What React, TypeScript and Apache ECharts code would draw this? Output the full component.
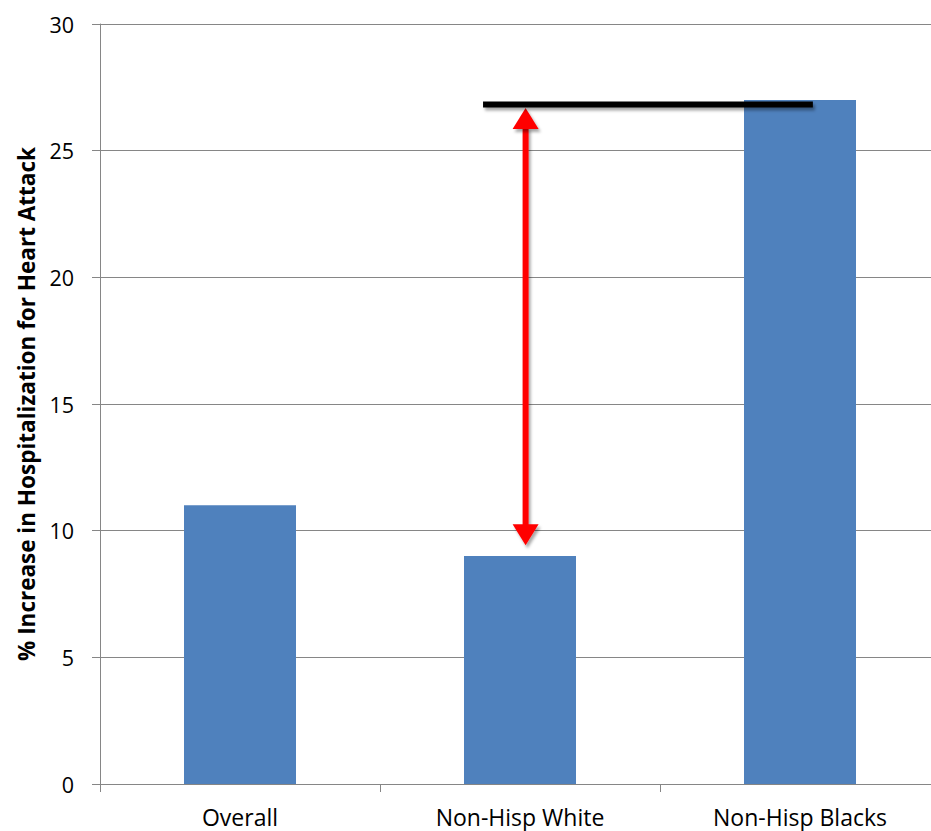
import React, { useEffect, useRef } from "react";
import * as echarts from "echarts";

const categories = ["Overall", "Non-Hisp White", "Non-Hisp Blacks"];
const values = [11, 9, 27];
const yMin = 0;
const yMax = 30;
const yInterval = 5;
const yAxisTitle = "% Increase in Hospitalization for Heart Attack";
// annotation: reference line at Non-Hisp Blacks level, arrow down to Non-Hisp White
const refLevel = [26.82];
const arrowTop = [26.68];
const arrowBottom = [9.42];

export default function App() {
  const ref = useRef<HTMLDivElement>(null);
  useEffect(() => {
    if (!ref.current) return;
    const chart = echarts.init(ref.current, null, { renderer: "svg" });
    const font = "'Open Sans', sans-serif";
    chart.setOption({
      animation: false,
      backgroundColor: "#ffffff",
      grid: { left: 100, top: 24, right: 20, bottom: 47, containLabel: false },
      xAxis: {
        type: "category",
        data: categories,
        axisLine: { show: true, lineStyle: { color: "#868686", width: 1 } },
        axisTick: { show: true, length: 8, alignWithLabel: false, lineStyle: { color: "#868686" } },
        axisLabel: { color: "#000", fontSize: 23, fontFamily: font, margin: 21 },
        splitLine: { show: false },
      },
      yAxis: {
        type: "value",
        min: yMin,
        max: yMax,
        interval: yInterval,
        name: yAxisTitle,
        nameLocation: "middle",
        nameGap: 62,
        nameTextStyle: { color: "#000", fontSize: 22.5, fontWeight: "bold", fontFamily: font },
        axisLine: { show: true, lineStyle: { color: "#868686", width: 1 } },
        axisTick: { show: true, length: 8, lineStyle: { color: "#868686" } },
        axisLabel: { color: "#000", fontSize: 21.5, fontFamily: font, margin: 26 },
        splitLine: { show: true, lineStyle: { color: "#868686", width: 1 } },
      },
      series: [
        {
          type: "bar",
          data: values,
          barWidth: "40%",
          itemStyle: { color: "#4F81BD" },
          z: 2,
        },
        {
          type: "custom",
          z: 5,
          clip: false,
          data: [[1, refLevel[0], arrowTop[0], arrowBottom[0]]],
          renderItem: (params: any, api: any) => {
            const idx = api.value(0);
            const lvl = api.coord([idx, api.value(1)]);
            const top = api.coord([idx, api.value(2)]);
            const bot = api.coord([idx, api.value(3)]);
            const bw = api.size([1, 0])[0];
            const x1 = lvl[0] - 0.132 * bw;
            const x2 = lvl[0] + 1.046 * bw;
            const ax = lvl[0] + 0.02 * bw;
            const headW = 13;
            const headL = 21;
            const shaftW = 6;
            const lineH = 6;
            const shadow = {
              shadowColor: "rgba(0,0,0,0.35)",
              shadowBlur: 3,
              shadowOffsetX: 2,
              shadowOffsetY: 3,
            };
            return {
              type: "group",
              children: [
                {
                  type: "rect",
                  shape: {
                    x: ax - shaftW / 2,
                    y: top[1] + headL - 2,
                    width: shaftW,
                    height: bot[1] - top[1] - 2 * headL + 4,
                  },
                  style: { fill: "#FF0000", ...shadow },
                },
                {
                  type: "polygon",
                  shape: {
                    points: [
                      [ax, top[1]],
                      [ax - headW, top[1] + headL],
                      [ax + headW, top[1] + headL],
                    ],
                  },
                  style: { fill: "#FF0000", ...shadow },
                },
                {
                  type: "polygon",
                  shape: {
                    points: [
                      [ax, bot[1]],
                      [ax - headW, bot[1] - headL],
                      [ax + headW, bot[1] - headL],
                    ],
                  },
                  style: { fill: "#FF0000", ...shadow },
                },
                {
                  type: "rect",
                  shape: { x: x1, y: lvl[1] - lineH / 2, width: x2 - x1, height: lineH },
                  style: { fill: "#000000", ...shadow },
                },
              ],
            };
          },
        },
      ],
    });
    return () => chart.dispose();
  }, []);
  return (
    <div
      style={{
        position: "fixed",
        left: 0,
        top: 0,
        width: 931,
        height: 831,
        overflow: "hidden",
        background: "#fff",
      }}
    >
      <div ref={ref} style={{ width: 960, height: 831 }} />
    </div>
  );
}
